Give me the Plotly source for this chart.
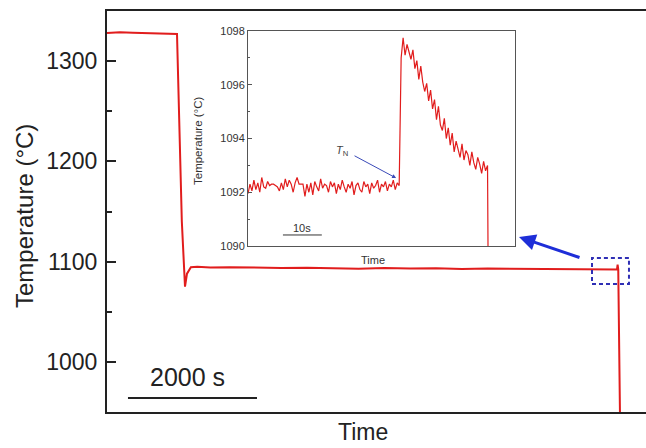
import plotly.graph_objects as go

# ---------------- main curve (time in s, temperature in °C)
main_t = [0, 200, 400, 600, 800, 1000, 1085, 1160, 1209, 1240, 1300, 1400, 1600,
          1900, 2300, 2700, 3100, 3500, 3900, 4300, 4700, 5100, 5500, 5900, 6300,
          6700, 7100, 7500, 7800, 7905, 7915, 7925, 7955]
main_T = [1328, 1328.8, 1328.3, 1328, 1327.6, 1327.3, 1327, 1140, 1075, 1088, 1094.5,
          1094.8, 1094.2, 1094.5, 1094, 1093.6, 1094, 1093.4, 1093, 1093.6, 1093.1,
          1093.5, 1092.6, 1093.1, 1093, 1092.5, 1093, 1092.4, 1092.6, 1092.2, 1097,
          1092, 930]

# ---------------- inset curve (time in s, temperature in °C)
inset_t = [0.0, 0.5, 1.0, 1.5, 2.0, 2.5, 3.0, 3.5, 4.0, 4.5, 5.0, 5.5, 6.0, 6.5, 7.0,
           7.5, 8.0, 8.5, 9.0, 9.5, 10.0, 10.5, 11.0, 11.5, 12.0, 12.5, 13.0, 13.5,
           14.0, 14.5, 15.0, 15.5, 16.0, 16.5, 17.0, 17.5, 18.0, 18.5, 19.0, 19.5,
           20.0, 20.5, 21.0, 21.5, 22.0, 22.5, 23.0, 23.5, 24.0, 24.5, 25.0, 25.5,
           26.0, 26.5, 27.0, 27.5, 28.0, 28.5, 29.0, 29.5, 30.0, 30.5, 31.0, 31.5,
           32.0, 32.5, 33.0, 33.5, 34.0, 34.5, 35.0, 35.5, 36.0, 36.5, 37.0, 37.5,
           38.0, 38.5,
           39.0, 39.5, 40.0, 40.5, 41.0, 41.5, 42.0, 42.5, 43.0, 43.5, 44.0, 44.5,
           45.0, 45.5, 46.0, 46.5, 47.0, 47.5, 48.0, 48.5, 49.0, 49.5, 50.0, 50.5,
           51.0, 51.5, 52.0, 52.5, 53.0, 53.5, 54.0, 54.5, 55.0, 55.5, 56.0, 56.5,
           57.0, 57.5, 58.0, 58.5, 59.0, 59.5, 60.0, 60.5, 61.0, 61.2]
inset_T = [1091.95, 1092.3, 1092.05, 1092.45, 1092.1, 1092.35, 1092.0, 1092.55, 1092.2,
           1092.15, 1092.4, 1092.25, 1092.3, 1092.3, 1092.25, 1092.2, 1092.05, 1092.35,
           1092.1, 1092.5, 1092.2, 1092.45, 1092.3, 1092.0, 1092.35, 1092.55, 1092.3,
           1092.3, 1092.3, 1091.85, 1092.3, 1092.0, 1092.35, 1091.9, 1092.4, 1092.2,
           1092.05, 1092.5, 1092.15, 1092.3, 1092.25, 1092.0, 1092.4, 1092.2, 1092.35,
           1091.95, 1092.3, 1092.1, 1092.45, 1092.2, 1092.0, 1092.3, 1092.15, 1092.4,
           1091.9, 1092.25, 1092.35, 1092.1, 1092.0, 1092.4, 1092.2, 1092.3, 1091.95,
           1092.35, 1092.15, 1092.25, 1092.45, 1092.0, 1092.3, 1092.2, 1092.4, 1092.05,
           1092.3, 1092.2, 1092.45, 1092.1, 1092.35, 1092.25,
           1097.0, 1097.75, 1097.1, 1097.5, 1097.2, 1096.95, 1097.3, 1096.6, 1096.9,
           1096.2, 1096.7, 1096.1, 1095.75, 1096.05, 1095.4, 1095.8, 1095.1, 1095.45,
           1094.7, 1095.2, 1094.5, 1094.3, 1094.75, 1094.0, 1094.4, 1093.75, 1094.2,
           1093.5, 1093.9, 1093.65, 1093.3, 1093.8, 1093.2, 1093.55, 1093.4, 1093.0,
           1093.5, 1093.1, 1092.85, 1093.3, 1093.05, 1092.7, 1093.15, 1092.8, 1093.0,
           1088.0]

main_ticks = [1000, 1100, 1200, 1300]
inset_ticks = [1090, 1092, 1094, 1096, 1098]

FONT = "Arial, Liberation Sans, sans-serif"
RED = "#e11d1d"


def px(xp):
    return (xp - 107) / 539


def py(yp):
    return (412 - yp) / 401


fig = go.Figure()
fig.add_trace(go.Scatter(x=main_t, y=main_T, mode="lines",
                         line=dict(color=RED, width=2), xaxis="x", yaxis="y",
                         showlegend=False, hoverinfo="skip"))
fig.add_trace(go.Scatter(x=inset_t, y=inset_T, mode="lines",
                         line=dict(color=RED, width=1.2), xaxis="x2", yaxis="y2",
                         showlegend=False, hoverinfo="skip"))

fig.update_layout(
    width=646, height=448,
    margin=dict(l=107, r=0, t=11, b=36),
    paper_bgcolor="white", plot_bgcolor="white",
    font=dict(family=FONT, color="#222"),
    xaxis=dict(domain=[0, 1], range=[0, 8355], showticklabels=False, ticks="",
               showgrid=False, zeroline=False, showline=True, linecolor="#222",
               linewidth=2, mirror=True),
    yaxis=dict(domain=[0, 1], range=[950, 1350], tickvals=main_ticks,
               ticks="inside", ticklen=9, tickwidth=1.5, tickcolor="#222",
               minor=dict(ticks="inside", ticklen=5, dtick=50, tick0=1000,
                          tickcolor="#222", tickwidth=1.5),
               tickfont=dict(size=23, color="#222"), ticklabelstandoff=3,
               showgrid=False, zeroline=False, showline=True, linecolor="#222",
               linewidth=2),
    xaxis2=dict(domain=[0.2616, 0.757], range=[0, 68], anchor="y2",
                showticklabels=False, ticks="", showgrid=False, zeroline=False,
                showline=True, linecolor="#555", linewidth=1, mirror=True),
    yaxis2=dict(domain=[0.414, 0.950], range=[1090, 1098], anchor="x2",
                tickvals=inset_ticks, ticks="inside", ticklen=4, tickcolor="#555",
                minor=dict(ticks="inside", ticklen=2, dtick=1, tick0=1090,
                           tickcolor="#555"),
                tickfont=dict(size=11, color="#333"), showgrid=False,
                zeroline=False, showline=True, linecolor="#555", linewidth=1,
                mirror=True),
)

shapes = [
    # dashed box on main plot
    dict(type="rect", xref="x", yref="y", x0=7518, x1=8091, y0=1077.8, y1=1103.7,
         line=dict(color="#2f2fb5", width=2, dash="4px,3px")),
    # main scale bar
    dict(type="line", xref="x", yref="y", x0=325, x1=2325, y0=964, y1=964,
         line=dict(color="#222", width=2)),
    # inset scale bar
    dict(type="line", xref="x2", yref="y2", x0=8.9, x1=18.8, y0=1090.41, y1=1090.41,
         line=dict(color="#333", width=1)),
]
fig.update_layout(shapes=shapes)

ann = [
    dict(text="2000 s", x=1250, y=985, xref="x", yref="y", showarrow=False,
         xanchor="center", yanchor="middle", font=dict(size=25, color="#222")),
    dict(text="Time", x=px(363), y=py(447), xref="paper", yref="paper",
         showarrow=False, xanchor="center", yanchor="bottom",
         font=dict(size=23, color="#222")),
    dict(text="Temperature (°C)", x=px(24), y=py(216), xref="paper", yref="paper",
         showarrow=False, textangle=-90, xanchor="center", yanchor="middle",
         font=dict(size=24, color="#222")),
    dict(text="10s", x=13.85, y=1090.68, xref="x2", yref="y2", showarrow=False,
         xanchor="center", yanchor="middle", font=dict(size=11, color="#333")),
    dict(text="Time", x=px(373), y=py(260), xref="paper", yref="paper",
         showarrow=False, xanchor="center", yanchor="middle",
         font=dict(size=11, color="#333")),
    dict(text="Temperature (°C)", x=px(198), y=py(141), xref="paper", yref="paper",
         showarrow=False, textangle=-90, xanchor="center", yanchor="middle",
         font=dict(size=11.5, color="#333")),
    dict(text="<i>T</i><sub>N</sub>", x=px(342), y=py(151), xref="paper",
         yref="paper", showarrow=False, xanchor="center", yanchor="middle",
         font=dict(size=11, color="#444")),
    # T_N arrow
    dict(text="", x=37.7, y=1092.53, xref="x2", yref="y2", showarrow=True,
         ax=-43, ay=-23, arrowhead=2, arrowsize=0.8, arrowwidth=1,
         arrowcolor="#3a4ab8"),
    # big blue arrow
    dict(text="", x=px(519), y=py(237), xref="paper", yref="paper", showarrow=True,
         ax=62, ay=21, arrowhead=2, arrowsize=1.1, arrowwidth=3,
         arrowcolor="#1e2ed8"),
]
fig.update_layout(annotations=ann)

fig.write_html("out.html")
